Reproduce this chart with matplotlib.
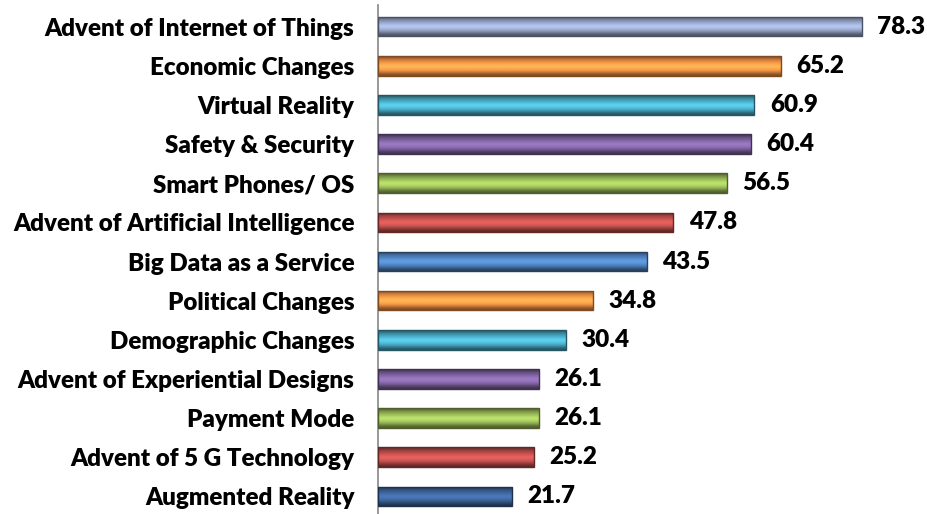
import matplotlib
matplotlib.use("Agg")
import matplotlib.pyplot as plt
import numpy as np
from matplotlib.colors import to_rgb

# data, bottom to top
categories = [
    "Augmented Reality",
    "Advent of 5 G Technology",
    "Payment Mode",
    "Advent of Experiential Designs",
    "Demographic Changes",
    "Political Changes",
    "Big Data as a Service",
    "Advent of Artificial Intelligence",
    "Smart Phones/ OS",
    "Safety & Security",
    "Virtual Reality",
    "Economic Changes",
    "Advent of Internet of Things",
]
values = [21.7, 25.2, 26.1, 26.1, 30.4, 34.8, 43.5, 47.8, 56.5, 60.4, 60.9, 65.2, 78.3]
bar_colors = [
    "#3d6398", "#c0504d", "#9bbb59", "#8064a2", "#4bacc6", "#f79646",
    "#4f81bd", "#c0504d", "#9bbb59", "#8064a2", "#4bacc6", "#f79646", "#95a3c6",
]

plt.rcParams["font.family"] = ["Lato", "DejaVu Sans"]

fig = plt.figure(figsize=(9.28, 5.14), dpi=100)
ax = fig.add_axes([378 / 928, 0.0, 550 / 928, 0.99])

y = np.arange(len(categories))
bars = ax.barh(y, values, height=0.5, color=bar_colors, edgecolor="none", zorder=2)

# bevel-like shading inside each bar
for b, c in zip(bars, bar_colors):
    base = np.array(to_rgb(c))
    prof = np.array([0.5, 0.75, 1.0, 1.15, 1.25, 1.1, 0.95, 0.8, 0.55])
    grad = np.clip(base[None, :] * prof[:, None], 0, 1)[:, None, :]
    x0, y0 = b.get_x(), b.get_y()
    w, h = b.get_width(), b.get_height()
    im = ax.imshow(grad, extent=[x0, x0 + w, y0, y0 + h], aspect="auto",
                   interpolation="bicubic", zorder=3, origin="lower")
    im.set_clip_path(b)
    ax.add_patch(plt.Rectangle((x0, y0), w, h, fill=False,
                               edgecolor=np.clip(base * 0.5, 0, 1), lw=1.0, zorder=4))
    ax.text(x0 + w + 2.5, y0 + h / 2, f"{w:.1f}", va="center", ha="left",
            fontsize=17.5, fontweight="heavy", color="black")

ax.set_xlim(0, 89)
ax.set_ylim(-0.45, len(categories) - 0.45)
ax.set_yticks(y)
ax.set_yticklabels(categories, fontsize=17.4, fontweight="heavy")
ax.tick_params(axis="y", length=0, pad=17)
ax.set_xticks([])
for s in ["top", "right", "bottom"]:
    ax.spines[s].set_visible(False)
ax.spines["left"].set_color("#868686")
ax.spines["left"].set_linewidth(1.2)

fig.savefig("out.png", dpi=100, facecolor="white")
